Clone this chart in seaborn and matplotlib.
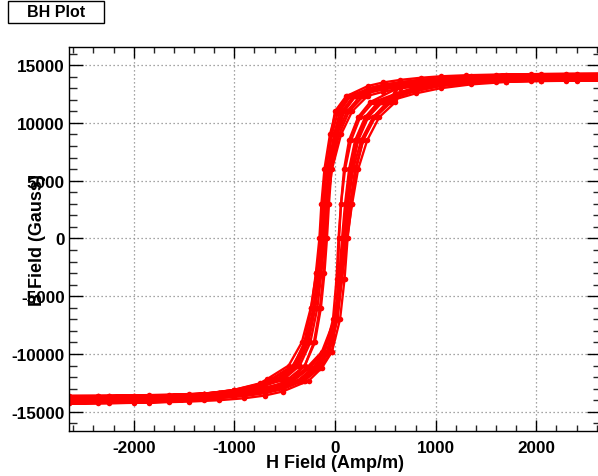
import numpy as np
import pandas as pd
import matplotlib
matplotlib.use("Agg")
import matplotlib.pyplot as plt
from matplotlib.patches import Rectangle
from matplotlib.ticker import MultipleLocator
import seaborn as sns

# ---------------- data ----------------
# shared grids
DESC_HI_H = [2640, 2300, 1950, 1600, 1300, 1050, 850, 650, 480, 330]
DESC_STEEP_B = [12300, 11000, 9000, 6000, 3000, 0, -3000, -6000, -9000, -11000, -12200]
DESC_LO_H = [-750, -1000, -1300, -1650, -2000, -2350, -2640]
ASC_LO_H = [-2640, -2250, -1850, -1450, -1150, -900, -700, -520]
ASC_STEEP_B = [-12300, -11200, -9800, -7000, -3500, 0, 3000, 6000, 8500, 10500, 11800]
ASC_HI_H = [600, 800, 1050, 1350, 1700, 2050, 2400, 2640]

# per-loop values
loop_desc_hi_B = [
    [14250, 14240, 14220, 14180, 14120, 14030, 13900, 13720, 13500, 13200],
    [14150, 14140, 14110, 14060, 13980, 13870, 13720, 13500, 13240, 12880],
    [14050, 14040, 14020, 13980, 13910, 13820, 13690, 13500, 13270, 12960],
    [13980, 13970, 13950, 13900, 13830, 13730, 13590, 13400, 13170, 12850],
    [13920, 13910, 13890, 13850, 13780, 13690, 13560, 13380, 13160, 12870],
    [13850, 13840, 13810, 13760, 13680, 13570, 13420, 13210, 12960, 12620],
    [13780, 13770, 13750, 13710, 13640, 13550, 13420, 13240, 13020, 12720],
    [13720, 13700, 13670, 13610, 13520, 13390, 13210, 12980, 12700, 12350],
    [13650, 13640, 13620, 13580, 13510, 13420, 13290, 13110, 12890, 12600],
    [14100, 14090, 14070, 14030, 13960, 13860, 13720, 13530, 13300, 12990],
]
loop_desc_steep_H = [
    [110, 0, -40, -60, -75, -90, -115, -150, -210, -300, -430],
    [250, 120, 20, -80, -110, -140, -185, -240, -330, -460, -680],
    [150, 50, -10, -65, -95, -120, -150, -195, -265, -370, -540],
    [120, 10, -50, -105, -135, -155, -190, -235, -305, -410, -580],
    [200, 90, 20, -35, -60, -80, -105, -140, -200, -300, -470],
    [280, 140, 40, -40, -85, -115, -160, -210, -290, -420, -640],
    [140, 30, -30, -90, -120, -140, -170, -215, -280, -390, -560],
    [320, 170, 60, -30, -75, -105, -150, -205, -285, -410, -620],
    [180, 70, 0, -60, -95, -125, -165, -210, -280, -380, -540],
    [200, 90, 10, -45, -80, -105, -135, -175, -245, -350, -510],
]
loop_desc_lo_B = [
    [-13200, -13650, -13950, -14130, -14220, -14260, -14280],
    [-12550, -13100, -13500, -13800, -13960, -14030, -14060],
    [-12850, -13330, -13660, -13870, -13970, -14010, -14030],
    [-12800, -13270, -13600, -13810, -13900, -13940, -13960],
    [-12700, -13200, -13530, -13730, -13830, -13880, -13900],
    [-12600, -13100, -13450, -13670, -13780, -13820, -13830],
    [-12750, -13200, -13510, -13670, -13730, -13750, -13760],
    [-12650, -13130, -13430, -13600, -13660, -13680, -13690],
    [-12750, -13170, -13430, -13560, -13610, -13630, -13630],
    [-12900, -13400, -13750, -13960, -14050, -14090, -14100],
]
loop_asc_lo_B = [
    [-14280, -14260, -14210, -14120, -14000, -13830, -13600, -13250],
    [-14060, -14040, -13980, -13880, -13730, -13530, -13220, -12800],
    [-14030, -14010, -13960, -13870, -13750, -13580, -13330, -12980],
    [-13960, -13940, -13890, -13800, -13670, -13500, -13250, -12900],
    [-13900, -13880, -13830, -13740, -13610, -13430, -13170, -12810],
    [-13830, -13810, -13760, -13660, -13520, -13330, -13050, -12670],
    [-13760, -13740, -13690, -13600, -13480, -13310, -13070, -12730],
    [-13690, -13670, -13620, -13520, -13380, -13190, -12920, -12550],
    [-13630, -13610, -13560, -13470, -13350, -13180, -12940, -12600],
    [-14100, -14080, -14030, -13940, -13820, -13650, -13400, -13050],
]
loop_asc_steep_H = [
    [-260, -130, -30, 10, 30, 40, 60, 90, 140, 230, 350],
    [-450, -280, -130, -5, 60, 110, 150, 200, 280, 400, 560],
    [-340, -190, -70, 15, 55, 85, 115, 150, 215, 310, 440],
    [-370, -220, -100, -20, 15, 35, 60, 100, 160, 250, 380],
    [-300, -150, -30, 50, 95, 125, 165, 210, 280, 380, 520],
    [-430, -260, -115, -5, 50, 95, 130, 180, 260, 380, 540],
    [-350, -200, -80, 0, 40, 70, 100, 140, 200, 300, 430],
    [-410, -250, -110, 5, 70, 120, 170, 230, 320, 440, 600],
    [-330, -180, -60, 25, 70, 100, 130, 170, 230, 330, 470],
    [-310, -170, -55, 20, 65, 100, 125, 160, 225, 320, 460],
]
loop_asc_hi_B = [
    [12900, 13380, 13780, 14030, 14170, 14220, 14240, 14250],
    [12200, 12750, 13250, 13620, 13870, 14010, 14100, 14140],
    [12500, 13000, 13430, 13730, 13900, 13990, 14030, 14050],
    [12500, 12980, 13400, 13680, 13840, 13920, 13960, 13980],
    [12350, 12850, 13280, 13580, 13760, 13850, 13900, 13920],
    [12250, 12780, 13220, 13520, 13700, 13790, 13830, 13850],
    [12400, 12880, 13300, 13570, 13700, 13750, 13770, 13780],
    [12050, 12550, 13000, 13330, 13540, 13650, 13700, 13720],
    [12300, 12780, 13180, 13440, 13580, 13630, 13650, 13650],
    [12550, 13050, 13480, 13790, 13960, 14050, 14090, 14100],
]

TITLE = "BH Plot"
XLABEL = "H Field (Amp/m)"
YLABEL = "B Field (Gauss)"
XTICKS = [-2000, -1000, 0, 1000, 2000]
YTICKS = [-15000, -10000, -5000, 0, 5000, 10000, 15000]

# ---------------- build table ----------------
rows = []
for k in range(len(loop_desc_hi_B)):
    hs = (DESC_HI_H + loop_desc_steep_H[k] + DESC_LO_H
          + ASC_LO_H + loop_asc_steep_H[k] + ASC_HI_H)
    bs = (loop_desc_hi_B[k] + DESC_STEEP_B + loop_desc_lo_B[k]
          + loop_asc_lo_B[k] + ASC_STEEP_B + loop_asc_hi_B[k])
    for i, (h, b) in enumerate(zip(hs, bs)):
        rows.append({"loop": k, "idx": i, "H": h, "B": b})
df = pd.DataFrame(rows)

# ---------------- plot ----------------
sns.set_theme(style="white")
plt.rcParams["font.family"] = ["Liberation Sans", "DejaVu Sans"]
plt.rcParams["font.weight"] = "bold"

fig = plt.figure(figsize=(5.98, 4.77), dpi=100)
W, H = 598.0, 477.0
left, right, top, bottom = 69.0, 601.0, 48.3, 431.7
ax = fig.add_axes([left / W, 1 - bottom / H, (right - left) / W, (bottom - top) / H])

sns.lineplot(data=df, x="H", y="B", units="loop", estimator=None, sort=False,
             color="#ff0000", linewidth=1.7, marker="o", markersize=4,
             markeredgewidth=0, legend=False, ax=ax)

ax.set_xlim(-2643, 2643)
ax.set_ylim(-16640, 16540)
ax.set_xticks(XTICKS)
ax.set_yticks(YTICKS)
ax.xaxis.set_minor_locator(MultipleLocator(200))
ax.yaxis.set_minor_locator(MultipleLocator(1000))
ax.set_xticklabels([str(t) for t in XTICKS], fontsize=12.3, fontweight="bold")
ax.set_yticklabels([str(t) for t in YTICKS], fontsize=12.3, fontweight="bold")

ax.tick_params(axis="x", which="major", direction="in", length=8, width=1,
               top=True, bottom=True, pad=6.5, colors="black")
ax.tick_params(axis="x", which="minor", direction="in", length=4.5, width=1,
               top=True, bottom=True)
ax.tick_params(axis="y", which="major", direction="in", length=10, width=1,
               left=True, right=True, pad=3, colors="black")
ax.tick_params(axis="y", which="minor", direction="in", length=5.5, width=1,
               left=True, right=True)

ax.grid(True, which="major", color="#888888", linestyle=(0, (1, 2.2)), linewidth=0.9)
for s in ax.spines.values():
    s.set_color("black")
    s.set_linewidth(1.0)
    s.set_visible(True)

ax.set_xlabel(XLABEL, fontsize=13, fontweight="bold", labelpad=-0.5, color="black")
ax.set_ylabel("")
fig.text(38 / W, 1 - 240 / H, YLABEL, rotation=90, ha="center", va="center",
         fontsize=13, fontweight="bold", color="black")

# title box
fig.patches.append(Rectangle((8.3 / W, 1 - 24 / H), (104 - 8.3) / W, (24 - 1.7) / H,
                             transform=fig.transFigure, fill=True, facecolor="white",
                             edgecolor="black", linewidth=1.0))
fig.text(56 / W, 1 - 12.8 / H, TITLE, ha="center", va="center",
         fontsize=11.5, fontweight="bold", color="black")

fig.savefig("out.png", dpi=100)
